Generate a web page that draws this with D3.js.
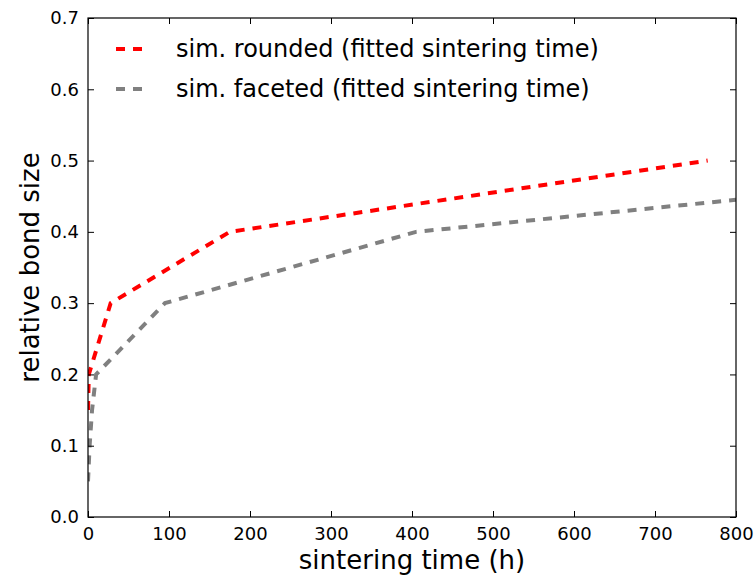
<!DOCTYPE html>
<html>
<head>
<meta charset="utf-8">
<script src="https://cdn.jsdelivr.net/npm/d3@7"></script>
<style>
  body { margin: 0; background: #fff; }
  text { font-family: "DejaVu Sans", sans-serif; fill: #000; }
</style>
</head>
<body>
<script>
// DATA
const roundedTime = [0, 1, 28, 175, 765];
const roundedSize = [0.15, 0.20, 0.30, 0.40, 0.50];
const facetedTime = [0, 2, 5, 10, 95, 405, 800];
const facetedSize = [0.05, 0.10, 0.15, 0.20, 0.30, 0.40, 0.445];
const xTicks = [0, 100, 200, 300, 400, 500, 600, 700, 800];
const yTicks = [0.0, 0.1, 0.2, 0.3, 0.4, 0.5, 0.6, 0.7];
const seriesNames = ["sim. rounded (fitted sintering time)", "sim. faceted (fitted sintering time)"];
const seriesColors = ["#ff0000", "#808080"];

const W = 756, H = 581;
const margin = { top: 18, right: 20, bottom: 64, left: 88 };
const width = W - margin.left - margin.right;
const height = H - margin.top - margin.bottom;

const svg = d3.select("body").append("svg")
    .attr("width", W)
    .attr("height", H);

const g = svg.append("g")
    .attr("transform", `translate(${margin.left},${margin.top})`);

// SCALES
const x = d3.scaleLinear().domain([0, 800]).range([0, width]);
const y = d3.scaleLinear().domain([0, 0.7]).range([height, 0]);

// LINES
const line = d3.line()
    .x(d => x(d[0]))
    .y(d => y(d[1]));

const series = [
    d3.zip(roundedTime, roundedSize),
    d3.zip(facetedTime, facetedSize)
];

g.append("defs").append("clipPath").attr("id", "clip")
    .append("rect").attr("width", width).attr("height", height);

series.forEach((s, i) => {
    g.append("path")
        .datum(s)
        .attr("clip-path", "url(#clip)")
        .attr("fill", "none")
        .attr("stroke", seriesColors[i])
        .attr("stroke-width", 4)
        .attr("stroke-dasharray", "9,8")
        .attr("d", line);
});

// AXES (ticks inward on all sides, classic style)
const fmtY = d3.format(".1f");
const tickLen = 6;

g.append("g")
    .attr("transform", `translate(0,${height})`)
    .call(d3.axisBottom(x).tickValues(xTicks).tickSizeInner(-tickLen).tickSizeOuter(0).tickPadding(10))
    .call(a => a.select(".domain").remove())
    .call(a => a.selectAll("text").attr("font-size", 18).attr("font-family", "DejaVu Sans"));

g.append("g")
    .call(d3.axisTop(x).tickValues(xTicks).tickSizeInner(-tickLen).tickSizeOuter(0).tickFormat(""))
    .call(a => a.select(".domain").remove());

g.append("g")
    .call(d3.axisLeft(y).tickValues(yTicks).tickFormat(fmtY).tickSizeInner(-tickLen).tickSizeOuter(0).tickPadding(9))
    .call(a => a.select(".domain").remove())
    .call(a => a.selectAll("text").attr("font-size", 18).attr("font-family", "DejaVu Sans"));

g.append("g")
    .attr("transform", `translate(${width},0)`)
    .call(d3.axisRight(y).tickValues(yTicks).tickSizeInner(-tickLen).tickSizeOuter(0).tickFormat(""))
    .call(a => a.select(".domain").remove());

// FRAME
g.append("rect")
    .attr("width", width)
    .attr("height", height)
    .attr("fill", "none")
    .attr("stroke", "#000")
    .attr("stroke-width", 1.2);

// AXIS LABELS
svg.append("text")
    .attr("x", margin.left + width / 2)
    .attr("y", 569)
    .attr("text-anchor", "middle")
    .attr("font-size", 26)
    .text("sintering time (h)");

svg.append("text")
    .attr("transform", `translate(39,${margin.top + height / 2}) rotate(-90)`)
    .attr("text-anchor", "middle")
    .attr("font-size", 26)
    .text("relative bond size");

// LEGEND
const legend = svg.append("g").attr("transform", "translate(116,49)");
seriesNames.forEach((name, i) => {
    legend.append("line")
        .attr("x1", 0).attr("x2", 27)
        .attr("y1", i * 40).attr("y2", i * 40)
        .attr("stroke", seriesColors[i])
        .attr("stroke-width", 4)
        .attr("stroke-dasharray", "9,8");
    legend.append("text")
        .attr("x", 60)
        .attr("y", i * 40)
        .attr("dy", "0.35em")
        .attr("font-size", 24)
        .text(name);
});
</script>
</body>
</html>
